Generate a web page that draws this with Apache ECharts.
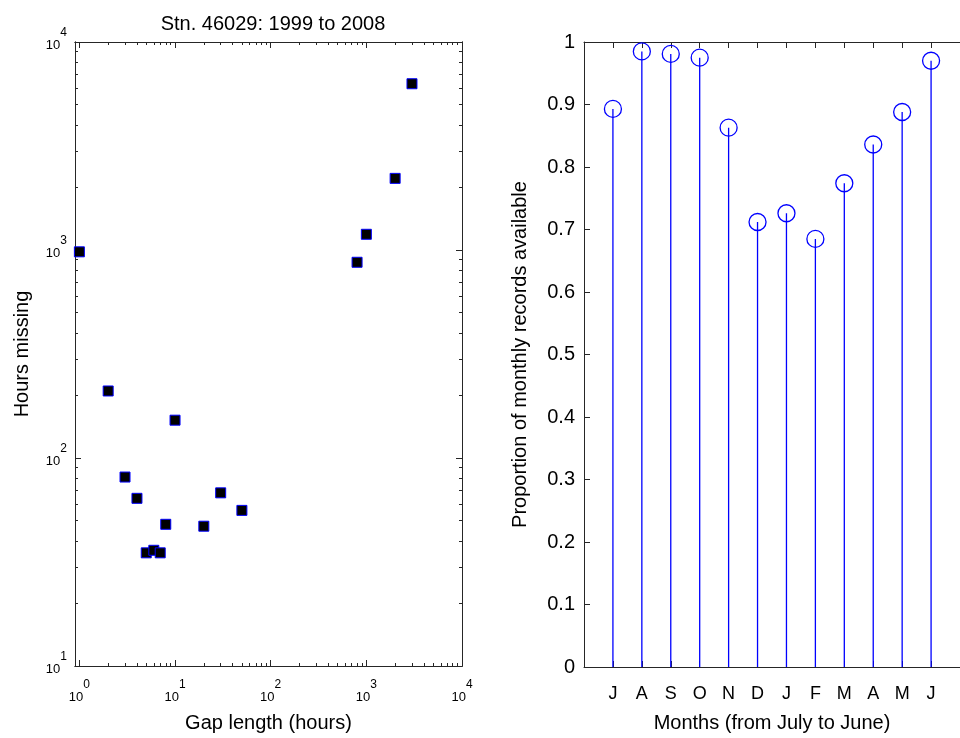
<!DOCTYPE html>
<html>
<head>
<meta charset="utf-8">
<script src="https://cdn.jsdelivr.net/npm/echarts@6/dist/echarts.min.js"></script>
<style>html,body{margin:0;padding:0;background:#fff}#c{width:960px;height:738px}</style>
</head>
<body>
<div id="c"></div>
<script>
// ---- data ----
var gapLength = [1, 2, 3, 4, 5, 6, 7, 8, 10, 20, 30, 50, 800, 1000, 2000, 3000];
var hoursMissing = [980, 210, 81, 64, 35, 36, 35, 48, 152, 47, 68, 56, 873, 1190, 2210, 6300];
var months = ['J', 'A', 'S', 'O', 'N', 'D', 'J', 'F', 'M', 'A', 'M', 'J'];
var proportion = [0.893, 0.985, 0.981, 0.975, 0.863, 0.712, 0.726, 0.685, 0.774, 0.836, 0.888, 0.970];
var logMajorX = [1, 10, 100, 1000, 10000];
var logMajorY = [10, 100, 1000, 10000];

var FONT = '"Liberation Sans", Arial, sans-serif';
var AXC = '#262626';

function minorTicks(lo, hi) {
  var out = [];
  for (var d = lo; d < hi; d *= 10) {
    for (var k = 2; k <= 9; k++) out.push(d * k);
  }
  return out;
}
var logMinorX = minorTicks(1, 10000);
var logMinorY = minorTicks(10, 10000);

var monthPos = months.map(function (m, i) { return i + 1; });
var scatterLeft = gapLength.map(function (g, i) { return [g, hoursMissing[i]]; });
var stemData = proportion.map(function (p, i) { return [monthPos[i], p]; });

function powLabel(v) {
  return '{b|10}{s|' + Math.round(Math.log10(v)) + '}';
}
var powRich = {
  b: { fontSize: 13, lineHeight: 36, fontFamily: FONT, color: '#000' },
  s: { fontSize: 12, lineHeight: 12, verticalAlign: 'top', fontFamily: FONT, color: '#000' }
};

function logX(pos, ticks, len, labels, extra) {
  var a = {
    type: 'log', logBase: 10, gridIndex: 0, position: pos, min: 0.9, max: 10000,
    axisLine: { show: true, lineStyle: { color: AXC, width: 1 } },
    axisTick: { show: true, inside: true, length: len, customValues: ticks, lineStyle: { color: AXC } },
    axisLabel: labels ? { show: true, customValues: logMajorX, formatter: powLabel, rich: powRich, margin: 13 } : { show: false },
    splitLine: { show: false }, minorTick: { show: false }
  };
  return Object.assign(a, extra || {});
}
function logY(pos, ticks, len, labels, extra) {
  var a = {
    type: 'log', logBase: 10, gridIndex: 0, position: pos, min: 10, max: 10000,
    axisLine: { show: true, lineStyle: { color: AXC, width: 1 } },
    axisTick: { show: true, inside: true, length: len, customValues: ticks, lineStyle: { color: AXC } },
    axisLabel: labels ? { show: true, customValues: logMajorY, formatter: powLabel, rich: powRich, margin: 8, padding: [6, 0, 0, 0] } : { show: false },
    splitLine: { show: false }, minorTick: { show: false }
  };
  return Object.assign(a, extra || {});
}

var chart = echarts.init(document.getElementById('c'), null, { renderer: 'canvas' });
chart.setOption({
  animation: false,
  backgroundColor: '#fff',
  textStyle: { fontFamily: FONT },
  title: {
    text: 'Stn. 46029: 1999 to 2008', left: 268, top: 9, textAlign: 'center',
    textStyle: { fontSize: 20, fontWeight: 'normal', color: '#000', fontFamily: FONT }
  },
  grid: [
    { left: 75, top: 42, right: 498, bottom: 68 },
    { left: 584, top: 42, right: -12, bottom: 68 }
  ],
  xAxis: [
    logX('bottom', logMajorX, 6, true, {
      name: 'Gap length (hours)', nameLocation: 'middle', nameGap: 47,
      nameTextStyle: { fontSize: 20, color: '#000', fontFamily: FONT }
    }),
    logX('bottom', logMinorX, 3, false),
    logX('top', logMajorX, 6, false),
    logX('top', logMinorX, 3, false),
    {
      type: 'value', gridIndex: 1, position: 'bottom', min: 0, max: 13,
      axisLine: { show: true, lineStyle: { color: AXC, width: 1 } },
      axisTick: { show: true, inside: true, length: 6, customValues: monthPos, lineStyle: { color: AXC } },
      axisLabel: {
        show: true, customValues: monthPos, margin: 18, fontSize: 18, color: '#000', fontFamily: FONT,
        formatter: function (v) { return months[Math.round(v) - 1] || ''; }
      },
      splitLine: { show: false },
      name: 'Months (from July to June)', nameLocation: 'middle', nameGap: 46,
      nameTextStyle: { fontSize: 20, color: '#000', fontFamily: FONT }
    },
    {
      type: 'value', gridIndex: 1, position: 'top', min: 0, max: 13,
      axisLine: { show: true, lineStyle: { color: AXC, width: 1 } },
      axisTick: { show: true, inside: true, length: 6, customValues: monthPos, lineStyle: { color: AXC } },
      axisLabel: { show: false }, splitLine: { show: false }
    }
  ],
  yAxis: [
    logY('left', logMajorY, 6, true, {
      name: 'Hours missing', nameLocation: 'middle', nameGap: 43,
      nameTextStyle: { fontSize: 20, color: '#000', fontFamily: FONT }
    }),
    logY('left', logMinorY, 3, false),
    logY('right', logMajorY, 6, false),
    logY('right', logMinorY, 3, false),
    {
      type: 'value', gridIndex: 1, position: 'left', min: 0, max: 1, interval: 0.1,
      axisLine: { show: true, lineStyle: { color: AXC, width: 1 } },
      axisTick: { show: true, inside: true, length: 6, lineStyle: { color: AXC } },
      axisLabel: { show: true, margin: 9, fontSize: 20, color: '#000', fontFamily: FONT },
      splitLine: { show: false },
      name: 'Proportion of monthly records available', nameLocation: 'middle', nameGap: 54,
      nameTextStyle: { fontSize: 20, color: '#000', fontFamily: FONT }
    }
  ],
  series: [
    {
      type: 'scatter', xAxisIndex: 0, yAxisIndex: 0, data: scatterLeft,
      symbol: 'rect', symbolSize: 10,
      itemStyle: { color: '#000', borderColor: '#0000ff', borderWidth: 1, opacity: 1 },
      emphasis: { disabled: true }
    },
    {
      type: 'bar', xAxisIndex: 4, yAxisIndex: 4, data: stemData,
      barWidth: 1.3, itemStyle: { color: '#0000ff' }, emphasis: { disabled: true }
    },
    {
      type: 'scatter', xAxisIndex: 4, yAxisIndex: 4, data: stemData,
      symbol: 'circle', symbolSize: 17,
      itemStyle: { color: 'rgba(0,0,0,0)', borderColor: '#0000ff', borderWidth: 1.3, opacity: 1 },
      emphasis: { disabled: true }, z: 3
    }
  ]
});
</script>
</body>
</html>
